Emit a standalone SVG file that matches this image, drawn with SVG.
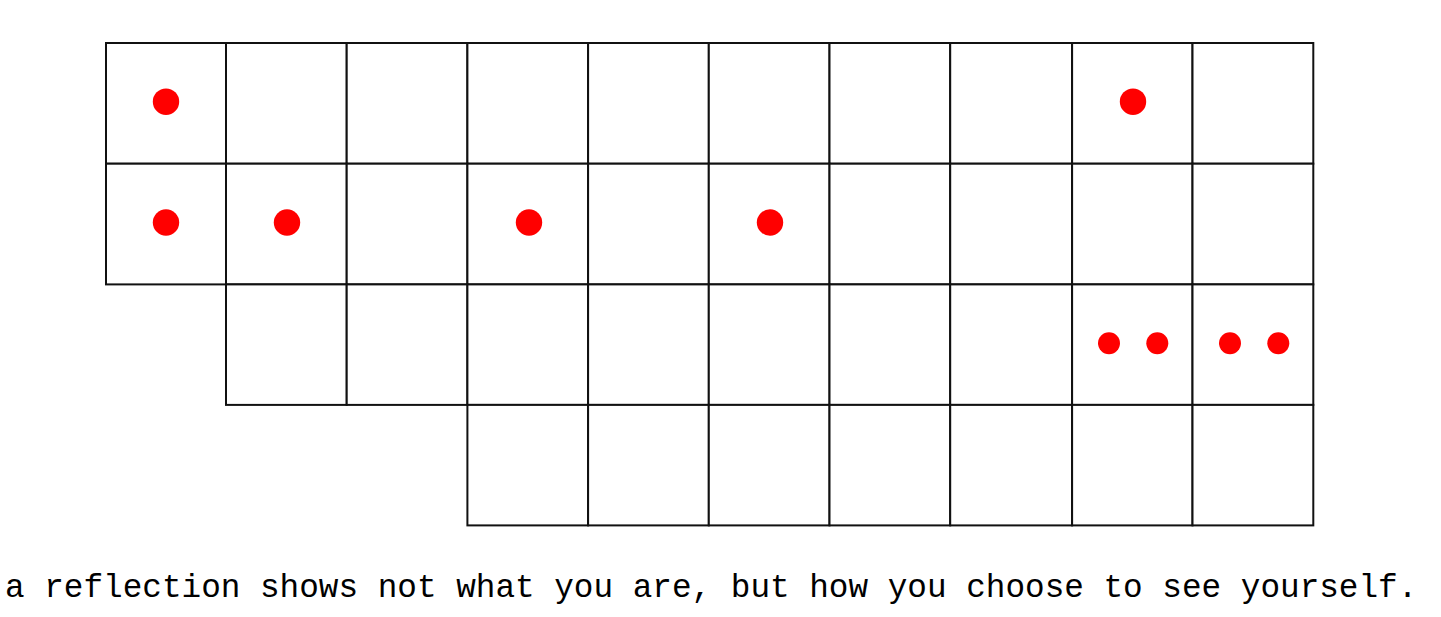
<svg xmlns="http://www.w3.org/2000/svg" width="1441" height="617" viewBox="0 0 1441 617">
<style>
.cell{fill:#fff;stroke:#111;stroke-width:2}
.dot{fill:#ff0000}
.cap{font-family:"Liberation Mono",monospace;font-size:32.7px;fill:#000}
</style>
<rect width="1441" height="617" fill="#fff"/>
<g id="grid">
<g id="row0">
<rect class="cell" x="106" y="43" width="120" height="120.7"/>
<rect class="cell" x="226" y="43" width="120.7" height="120.7"/>
<rect class="cell" x="346.7" y="43" width="120.7" height="120.7"/>
<rect class="cell" x="467.4" y="43" width="120.7" height="120.7"/>
<rect class="cell" x="588.1" y="43" width="120.7" height="120.7"/>
<rect class="cell" x="708.8" y="43" width="120.7" height="120.7"/>
<rect class="cell" x="829.5" y="43" width="120.7" height="120.7"/>
<rect class="cell" x="950.2" y="43" width="121.9" height="120.7"/>
<rect class="cell" x="1072.1" y="43" width="120.4" height="120.7"/>
<rect class="cell" x="1192.5" y="43" width="120.8" height="120.7"/>
</g>
<g id="row1">
<rect class="cell" x="106" y="163.7" width="120" height="120.7"/>
<rect class="cell" x="226" y="163.7" width="120.7" height="120.7"/>
<rect class="cell" x="346.7" y="163.7" width="120.7" height="120.7"/>
<rect class="cell" x="467.4" y="163.7" width="120.7" height="120.7"/>
<rect class="cell" x="588.1" y="163.7" width="120.7" height="120.7"/>
<rect class="cell" x="708.8" y="163.7" width="120.7" height="120.7"/>
<rect class="cell" x="829.5" y="163.7" width="120.7" height="120.7"/>
<rect class="cell" x="950.2" y="163.7" width="121.9" height="120.7"/>
<rect class="cell" x="1072.1" y="163.7" width="120.4" height="120.7"/>
<rect class="cell" x="1192.5" y="163.7" width="120.8" height="120.7"/>
</g>
<g id="row2">
<rect class="cell" x="226" y="284.4" width="120.7" height="120.5"/>
<rect class="cell" x="346.7" y="284.4" width="120.7" height="120.5"/>
<rect class="cell" x="467.4" y="284.4" width="120.7" height="120.5"/>
<rect class="cell" x="588.1" y="284.4" width="120.7" height="120.5"/>
<rect class="cell" x="708.8" y="284.4" width="120.7" height="120.5"/>
<rect class="cell" x="829.5" y="284.4" width="120.7" height="120.5"/>
<rect class="cell" x="950.2" y="284.4" width="121.9" height="120.5"/>
<rect class="cell" x="1072.1" y="284.4" width="120.4" height="120.5"/>
<rect class="cell" x="1192.5" y="284.4" width="120.8" height="120.5"/>
</g>
<g id="row3">
<rect class="cell" x="467.4" y="404.9" width="120.7" height="120.5"/>
<rect class="cell" x="588.1" y="404.9" width="120.7" height="120.5"/>
<rect class="cell" x="708.8" y="404.9" width="120.7" height="120.5"/>
<rect class="cell" x="829.5" y="404.9" width="120.7" height="120.5"/>
<rect class="cell" x="950.2" y="404.9" width="121.9" height="120.5"/>
<rect class="cell" x="1072.1" y="404.9" width="120.4" height="120.5"/>
<rect class="cell" x="1192.5" y="404.9" width="120.8" height="120.5"/>
</g>
</g>
<g id="dots">
<circle class="dot" cx="166" cy="101.7" r="13.2"/>
<circle class="dot" cx="1133" cy="101.7" r="13.2"/>
<circle class="dot" cx="166" cy="222.5" r="13.2"/>
<circle class="dot" cx="287" cy="222.5" r="13.2"/>
<circle class="dot" cx="529" cy="222.5" r="13.2"/>
<circle class="dot" cx="770" cy="222.5" r="13.2"/>
<circle class="dot" cx="1109" cy="343.3" r="11"/>
<circle class="dot" cx="1157.3" cy="343.3" r="11"/>
<circle class="dot" cx="1230" cy="343.3" r="11"/>
<circle class="dot" cx="1278.3" cy="343.3" r="11"/>
</g>
<text class="cap" x="5" y="597">a reflection shows not what you are, but how you choose to see yourself.</text>
</svg>
